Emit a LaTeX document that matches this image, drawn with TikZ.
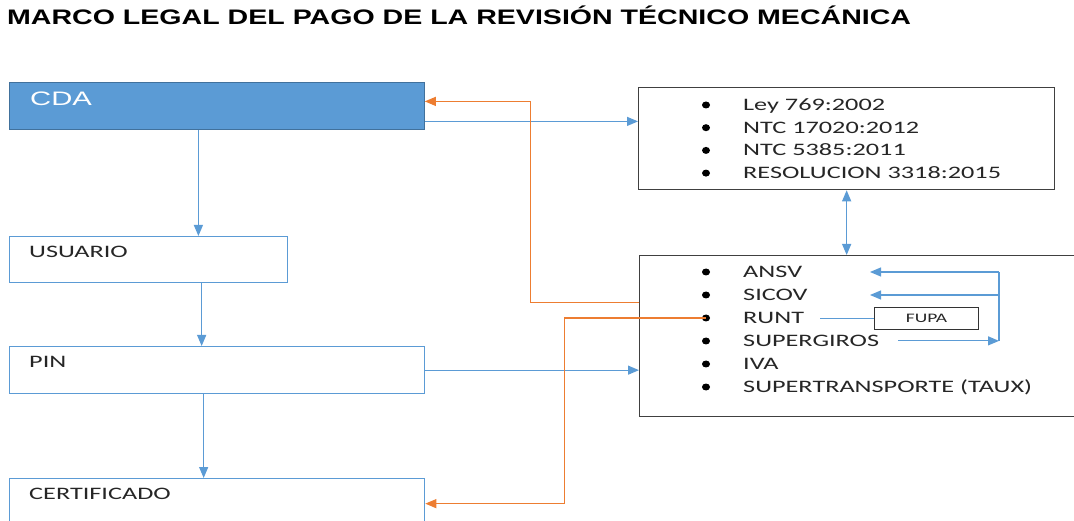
\documentclass[tikz,border=0pt]{standalone}
\usepackage{fontspec}
\usepackage{xcolor}
\usetikzlibrary{shapes.geometric,arrows.meta,positioning,calc}
\newfontfamily\bodyfont[FakeStretch=1.5]{Carlito}
\newfontfamily\headfont[FakeStretch=1.5]{Liberation Sans}
\newfontfamily\titlefont[FakeStretch=1.36]{Liberation Sans}
\definecolor{officeblue}{HTML}{5B9BD5}
\definecolor{officedark}{HTML}{41719C}
\definecolor{officeorange}{HTML}{ED7D31}
\definecolor{inktext}{HTML}{262626}
\tikzset{
 stepbox/.style={draw=officeblue,line width=1.3pt,minimum height=47pt,anchor=north west,inner sep=0pt},
 listbox/.style={draw=black!75,line width=1.3pt,anchor=north west,inner sep=0pt},
 itemtext/.style={font=\bodyfont\fontsize{17.5}{20}\selectfont,text=inktext,inner sep=0pt,anchor=base west},
 bulletdot/.style={ellipse,fill=black,inner sep=0pt,minimum width=8pt,minimum height=7pt},
 bluelink/.style={draw=officeblue,line width=1.2pt},
 orangelink/.style={draw=officeorange,line width=1.2pt}
}

\begin{document}
\begin{tikzpicture}[x=1pt,y=-1pt,>={Triangle[length=11pt,width=9pt]}]
\useasboundingbox (0,0) rectangle (1074,521);
\node[anchor=base west,inner sep=0pt,font=\titlefont\bfseries\fontsize{21}{25}\selectfont](Titulo) at (7,25){MARCO LEGAL DEL PAGO DE LA REVISIÓN TÉCNICO MECÁNICA};
\node[stepbox,fill=officeblue,draw=officedark,line width=0.8pt,minimum width=415pt](CDA) at (9,82){};
\node[anchor=base west,inner sep=0pt,text=white,font=\headfont\fontsize{19.5}{23}\selectfont](CDAtxt) at (30,106){CDA};
\node[stepbox,minimum width=278pt,minimum height=46pt](Usuario) at (9,236){};
\node[stepbox,minimum width=415pt](Pin) at (9,346){};
\node[stepbox,minimum width=415pt](Cert) at (9,478){};
\foreach \n/\lbl/\y in {Usuario/USUARIO/257.5,Pin/PIN/367.5,Cert/CERTIFICADO/499.5}
 \node[itemtext](\n txt) at (29,\y){\lbl};
\node[listbox,minimum width=416pt,minimum height=102pt](Normas) at (638,87){};
\foreach \i/\lbl in {1/Ley 769:2002,2/NTC 17020:2012,3/NTC 5385:2011,4/RESOLUCION 3318:2015}
 {\node[bulletdot](nb\i) at (706,{105+22.7*(\i-1)}){};\node[itemtext](n\i) at (743,{110.5+22.7*(\i-1)}){\lbl};}
\node[listbox,minimum width=440pt,minimum height=161pt](Entidades) at (639,255){};
\foreach \i/\lbl in {1/ANSV,2/SICOV,3/RUNT,4/SUPERGIROS,5/IVA,6/SUPERTRANSPORTE (TAUX)}
 {\node[bulletdot](eb\i) at (706,{272+23*(\i-1)}){};\node[itemtext](e\i) at (743,{277.5+23*(\i-1)}){\lbl};}
\node[listbox,draw=black!80,line width=1pt,minimum width=104pt,minimum height=22pt,text=inktext,font=\bodyfont\fontsize{13}{15}\selectfont](FUPA) at (874,307){FUPA};
\coordinate(cdadown) at ($(CDA.south)+(-18.5,0)$);
\coordinate(cdaright) at ($(CDA.east)+(0,15.5)$);
\coordinate(usrdown) at ($(Usuario.south)+(53,0)$);
\coordinate(pindown) at ($(Pin.south)+(-13.5,0)$);
\coordinate(runtend) at ($(e3.east)+(16,0)$);
\coordinate(girosout) at ($(e4.east)+(19,0)$);
\coordinate(hubtop) at ($(eb1)+(293,0)$);
\coordinate(tipx) at ($(FUPA.west)+(-4,0)$);
\draw[bluelink,->](cdadown)--(cdadown |- Usuario.north);
\draw[bluelink,->](usrdown)--(usrdown |- Pin.north);
\draw[bluelink,->](pindown)--(pindown |- Cert.north);
\draw[bluelink,->](cdaright)--(cdaright -| Normas.west);
\draw[bluelink,->](Pin.east)--(Pin.east -| Entidades.west);
\draw[bluelink,<->](Normas.south)--(Normas.south |- Entidades.north);
\draw[bluelink,line width=0.8pt](FUPA.west)--(FUPA.west -| runtend);
\draw[bluelink,->](girosout)--(girosout -| hubtop);
\draw[bluelink](girosout -| hubtop)--(hubtop);
\draw[bluelink,->](hubtop)--(hubtop -| tipx);
\draw[bluelink,->](hubtop |- eb2)--(eb2 -| tipx);
\draw[orangelink,->]($(Entidades.west)+(0,-33.5)$)-|($(CDA.east)+(106,-4.5)$)--($(CDA.east)+(0,-4.5)$);
\draw[orangelink,->](eb3.center)-|($(Cert.east)+(139,1.5)$)--($(Cert.east)+(0,1.5)$);
\end{tikzpicture}
\end{document}
